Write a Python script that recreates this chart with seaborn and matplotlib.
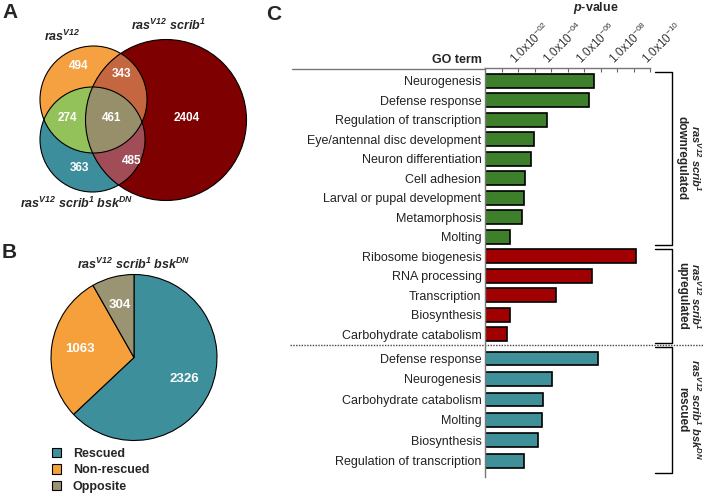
import numpy as np
import pandas as pd
import matplotlib
matplotlib.use("Agg")
import matplotlib.pyplot as plt
import seaborn as sns
from matplotlib.patches import Circle, Polygon

# ---- data ----
# A: Venn region counts
venn_counts = ["494", "343", "274", "461", "2404", "485", "363"]
venn_sets = ["ras$^{V12}$", "ras$^{V12}$ scrib$^{1}$", "ras$^{V12}$ scrib$^{1}$ bsk$^{DN}$"]

# B: pie
pie_labels = ["Rescued", "Non-rescued", "Opposite"]
pie_counts = [2326, 1063, 304]

# C: GO terms, -log10(p)
go_terms = ["Neurogenesis", "Defense response", "Regulation of transcription",
            "Eye/antennal disc development", "Neuron differentiation", "Cell adhesion",
            "Larval or pupal development", "Metamorphosis", "Molting",
            "Ribosome biogenesis", "RNA processing", "Transcription", "Biosynthesis",
            "Carbohydrate catabolism",
            "Defense response", "Neurogenesis", "Carbohydrate catabolism", "Molting",
            "Biosynthesis", "Regulation of transcription"]
go_logp = [6.6, 6.33, 3.76, 2.99, 2.79, 2.42, 2.36, 2.22, 1.54,
           9.13, 6.5, 4.32, 1.54, 1.33,
           6.83, 4.06, 3.54, 3.45, 3.24, 2.35]
go_group = ["down"] * 9 + ["up"] * 5 + ["rescued"] * 6
group_names = {"down": "ras$^{V12}$ scrib$^{1}$", "up": "ras$^{V12}$ scrib$^{1}$",
               "rescued": "ras$^{V12}$ scrib$^{1}$ bsk$^{DN}$"}
group_sub = {"down": "downregulated", "up": "upregulated", "rescued": "rescued"}
tick_vals = [2, 4, 6, 8, 10]
tick_labels = ["1.0x10$^{-%02d}$" % v for v in tick_vals]

# ---- style ----
sns.set_theme(style="white")
plt.rcParams["font.family"] = ["Liberation Sans", "DejaVu Sans"]
plt.rcParams["mathtext.fontset"] = "custom"
plt.rcParams["mathtext.rm"] = "Liberation Sans"
plt.rcParams["mathtext.it"] = "Liberation Sans:italic:bold"
plt.rcParams["mathtext.bf"] = "Liberation Sans:bold"
plt.rcParams["mathtext.default"] = "regular"

W, H = 704, 497
fig = plt.figure(figsize=(W / 100, H / 100), dpi=100)

# overlay axes in pixel coords
ov = fig.add_axes([0, 0, 1, 1])
ov.set_xlim(0, W)
ov.set_ylim(H, 0)
ov.axis("off")

# ---- A: Venn ----
c_ras = ((93.5, 99.5), 53.5)
c_scrib = ((166, 120), 80.5)
c_bsk = ((92.5, 139.5), 52.5)


def lens(a, b, n=600):
    (ca, ra), (cb, rb) = a, b
    t = np.linspace(0, 2 * np.pi, n)
    pa = np.c_[ca[0] + ra * np.cos(t), ca[1] + ra * np.sin(t)]
    pb = np.c_[cb[0] + rb * np.cos(t), cb[1] + rb * np.sin(t)]
    ina = pa[np.hypot(pa[:, 0] - cb[0], pa[:, 1] - cb[1]) <= rb]
    inb = pb[np.hypot(pb[:, 0] - ca[0], pb[:, 1] - ca[1]) <= ra]
    return np.vstack([ina, inb])


def circ(c, **kw):
    return Circle(c[0], c[1], transform=ov.transData, **kw)


ov.add_patch(circ(c_ras, facecolor="#F5A142", lw=0))
ov.add_patch(circ(c_bsk, facecolor="#3D8E9C", lw=0))
rb_lens = lens(c_ras, c_bsk)
ov.add_patch(Polygon(rb_lens, closed=True, facecolor="#93C15A", lw=0))
ov.add_patch(circ(c_scrib, facecolor="#7F0000", lw=0))
clip = circ(c_scrib)
for p in [circ(c_ras, facecolor="#C4663F", lw=0),
          circ(c_bsk, facecolor="#A04D58", lw=0),
          Polygon(rb_lens, closed=True, facecolor="#978F69", lw=0)]:
    ov.add_patch(p)
    p.set_clip_path(clip)
for c in [c_ras, c_scrib, c_bsk]:
    ov.add_patch(circ(c, facecolor="none", edgecolor="black", lw=0.8))

venn_pos = [(79, 66), (122, 74), (67, 118), (112, 118), (187, 118), (132, 161), (79, 168)]
for (x, y), s in zip(venn_pos, venn_counts):
    ov.text(x, y, s, color="white", fontsize=8.5, fontweight="bold", ha="center", va="center")
for (x, y), s in zip([(62, 36), (168, 25), (77, 203)], venn_sets):
    ov.text(x, y, s, fontsize=9, fontweight="bold", style="italic", ha="center", va="center")

# panel letters
for s, x, y in [("A", 10, 12), ("B", 9, 252), ("C", 274, 15)]:
    ov.text(x, y, s, fontsize=15, fontweight="bold", ha="center", va="center")

# ---- B: pie ----
pc, pr = (134, 357.5), 83
pax = fig.add_axes([(pc[0] - 100) / W, 1 - (pc[1] + 100) / H, 200 / W, 200 / H])
pie_colors = ["#3E8F9C", "#F6A03C", "#9A9473"]
wedges, _, autotexts = pax.pie(pie_counts, colors=pie_colors, startangle=90, counterclock=False,
                               autopct=lambda v: "%d" % round(v * sum(pie_counts) / 100),
                               pctdistance=0.66,
                               wedgeprops=dict(edgecolor="black", linewidth=0.8),
                               textprops=dict(color="white", fontsize=9.5, fontweight="bold"))
pax.set_xlim(-100 / pr, 100 / pr)
pax.set_ylim(-100 / pr, 100 / pr)
ov.text(pc[0], 264, venn_sets[2], fontsize=9, fontweight="bold", style="italic",
        ha="center", va="center")
pax.legend(wedges, pie_labels, loc="upper left", bbox_to_anchor=(52 / W, 1 - 448 / H),
           bbox_transform=fig.transFigure, frameon=False, borderpad=0, borderaxespad=0,
           handlelength=0.75, handleheight=0.75, handletextpad=0.9, labelspacing=0.35,
           prop=dict(weight="bold", size=9))

# ---- C: GO bars ----
n = len(go_terms)
# upper block (down + up) and rescued block were stacked with a small gap
ypos = np.r_[np.arange(14), 14.24 + 1.05 * np.arange(n - 14)]
df = pd.DataFrame({"ypos": ypos, "logp": go_logp, "group": go_group})
unit, row0, top, bot = 19.5, 80.7, 68, 476.7
bax = fig.add_axes([485 / W, 1 - bot / H, 165 / W, (bot - top) / H])
bax.set_facecolor("none")
bar_colors = {"down": "#3D7F2B", "up": "#A00000", "rescued": "#3F9099"}
sns.barplot(data=df, x="logp", y="ypos", hue="group", palette=bar_colors, dodge=False,
            orient="h", native_scale=True, width=0.7, saturation=1, edgecolor="black",
            linewidth=1.2, legend=False, ax=bax)
bax.set_xlim(0, 10)
bax.set_ylim((bot - row0) / unit, (top - row0) / unit)
bax.set_yticks(ypos, go_terms)
bax.xaxis.tick_top()
bax.set_xticks(tick_vals, tick_labels)
bax.set_xticks([1, 3, 5, 7, 9], minor=True)
bax.set_xlabel("")
bax.set_ylabel("")
bax.tick_params(axis="y", length=0, pad=2.5, labelsize=9, labelcolor="#222222")
bax.tick_params(axis="x", which="both", top=True, bottom=False, direction="in",
                length=3, width=0.8, color="#666666", labelsize=8.5, labelcolor="#383838", pad=1)
for lab in bax.get_xticklabels():
    lab.set_rotation(45)
    lab.set_ha("left")
    lab.set_va("bottom")
    lab.set_rotation_mode("anchor")
for s in ["bottom", "right"]:
    bax.spines[s].set_visible(False)
for s in ["left", "top"]:
    bax.spines[s].set_color("#777777")
    bax.spines[s].set_linewidth(1)

ov.text(482, 60, "GO term", fontsize=9, fontweight="bold", ha="right", va="center")
ov.text(596, 8, "$\\mathit{p}$-value", fontsize=9, fontweight="bold", ha="center", va="center")
ov.plot([292, 485], [68.5, 68.5], color="#777777", lw=1)
ov.plot([290, 704], [344.5, 344.5], color="#444444", lw=1, ls=(0, (1, 1)))

# group brackets
brackets = {"down": (72, 245), "up": (249, 343), "rescued": (347, 473)}
for g, (y0, y1) in brackets.items():
    ov.plot([655, 672, 672, 655], [y0, y0, y1, y1], color="black", lw=1)
    yc = (y0 + y1) / 2
    ov.text(696, yc, group_names[g], rotation=-90, fontsize=8, fontweight="bold",
            style="italic", ha="center", va="center")
    ov.text(682, yc, group_sub[g], rotation=-90, fontsize=8.5, fontweight="bold",
            ha="center", va="center")

fig.savefig("out.png", dpi=100)
